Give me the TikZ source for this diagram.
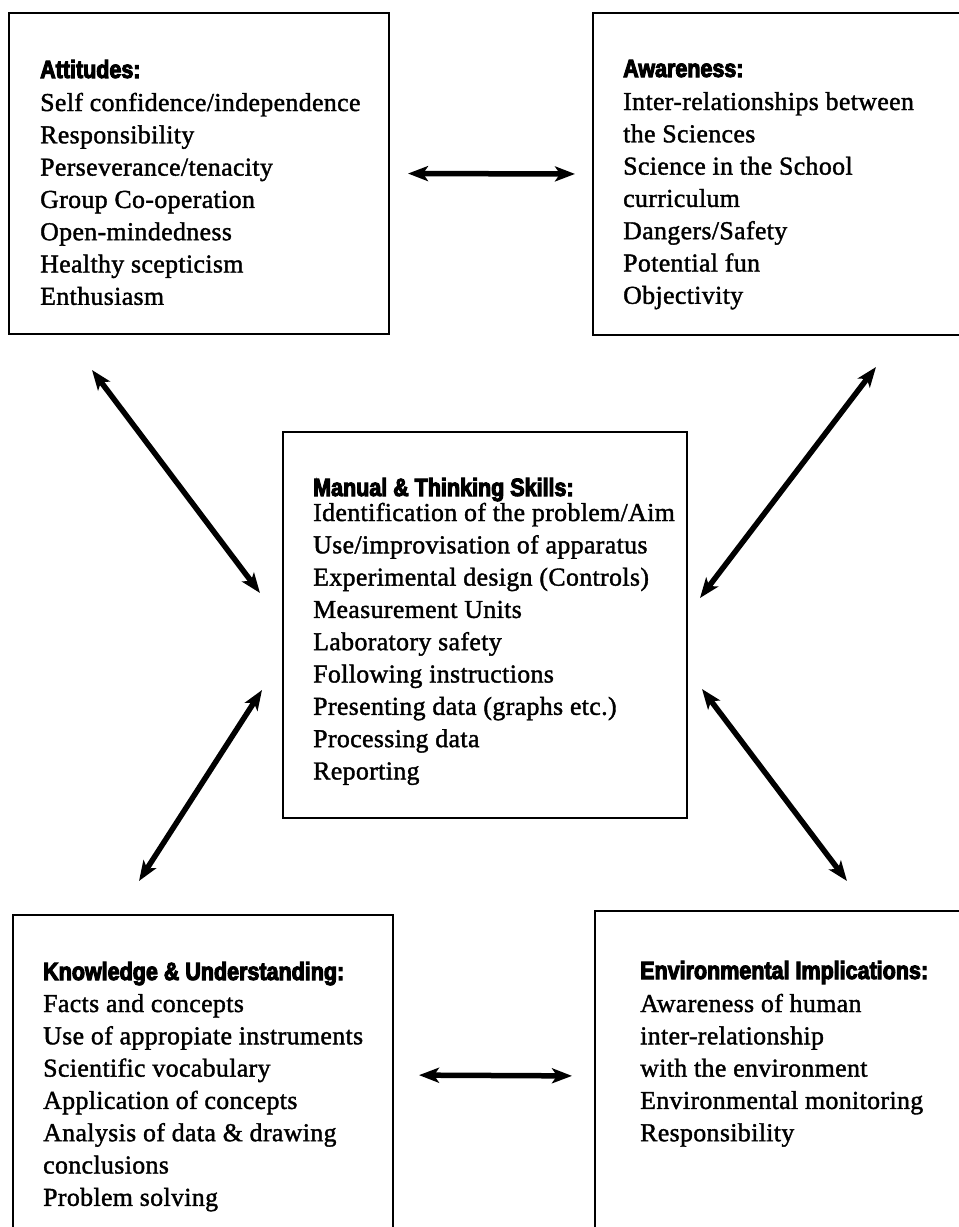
\documentclass[tikz,border=0pt]{standalone}
\usepackage{fontspec}
\usetikzlibrary{arrows.meta}
\newfontfamily\bodyfont[LetterSpace=1.5,FakeBold=1.5]{Liberation Serif}
\newfontfamily\headfont[FakeStretch=0.86,FakeBold=4]{Liberation Sans}
\newcommand{\hd}[1]{{\headfont\bfseries\fontsize{25}{32}\selectfont #1}}

\begin{document}
\begin{tikzpicture}[x=1pt,y=-1pt,
  panel/.style={draw, line width=1.8pt, inner sep=0pt, outer sep=0pt, anchor=north west},
  body/.style={anchor=base west, inner sep=0pt, font=\bodyfont\fontsize{25.8}{32.3}\selectfont},
  link/.style={line width=5.5pt, {Stealth[length=20pt,width=15pt,inset=5pt]}-{Stealth[length=20pt,width=15pt,inset=5pt]}}]
\useasboundingbox (0,0) rectangle (959,1227);
\clip (0,0) rectangle (959,1227);

% the five panels
\node[panel, minimum width=380pt, minimum height=321pt] (att) at (9,13) {};
\node[panel, minimum width=377pt, minimum height=322pt] (awa) at (593,13) {};
\node[panel, minimum width=404pt, minimum height=386pt] (cen) at (283,432) {};
\node[panel, minimum width=380pt, minimum height=320pt] (kno) at (13,915) {};
\node[panel, minimum width=375pt, minimum height=330pt] (env) at (595,911) {};

% panel texts
\node[body] (attT) at (40,78) {\begin{tabular}[t]{@{}l@{}}
\hd{Attitudes:}\\[0.7pt]
Self confidence/independence\\
Responsibility\\
Perseverance/tenacity\\
Group Co-operation\\
Open-mindedness\\
Healthy scepticism\\
Enthusiasm
\end{tabular}};

\node[body] (awaT) at (623,77) {\begin{tabular}[t]{@{}l@{}}
\hd{Awareness:}\\[0.7pt]
Inter-relationships between\\
the Sciences\\
Science in the School\\
curriculum\\
Dangers/Safety\\
Potential fun\\
Objectivity
\end{tabular}};

\node[body] (cenT) at (313,496) {\begin{tabular}[t]{@{}l@{}}
\hd{Manual \& Thinking Skills:}\\[-7.3pt]
Identification of the problem/Aim\\
Use/improvisation of apparatus\\
Experimental design (Controls)\\
Measurement Units\\
Laboratory safety\\
Following instructions\\
Presenting data (graphs etc.)\\
Processing data\\
Reporting
\end{tabular}};

\node[body] (knoT) at (43,980) {\begin{tabular}[t]{@{}l@{}}
\hd{Knowledge \& Understanding:}\\[-0.3pt]
Facts and concepts\\
Use of appropiate instruments\\
Scientific vocabulary\\
Application of concepts\\
Analysis of data \& drawing\\
conclusions\\
Problem solving
\end{tabular}};

\node[body] (envT) at (640,979) {\begin{tabular}[t]{@{}l@{}}
\hd{Environmental Implications:}\\[0.7pt]
Awareness of human\\
inter-relationship\\
with the environment\\
Environmental monitoring\\
Responsibility
\end{tabular}};

% free ends of the diagonal links
\coordinate (ulA) at (92,370);
\coordinate (ulB) at (260,593);
\coordinate (urA) at (876,367);
\coordinate (urB) at (700,598);
\coordinate (llA) at (262,690);
\coordinate (llB) at (139,881);
\coordinate (lrA) at (702,689);
\coordinate (lrB) at (847,881);

% links
\draw[link, shorten <=19pt, shorten >=18pt] (att.east) -- (awa.west);
\draw[link, shorten <=26pt, shorten >=23pt] (kno.east) -- (env.west);
\draw[link] (ulA) -- (ulB);
\draw[link] (urA) -- (urB);
\draw[link] (llA) -- (llB);
\draw[link] (lrA) -- (lrB);
\end{tikzpicture}
\end{document}
